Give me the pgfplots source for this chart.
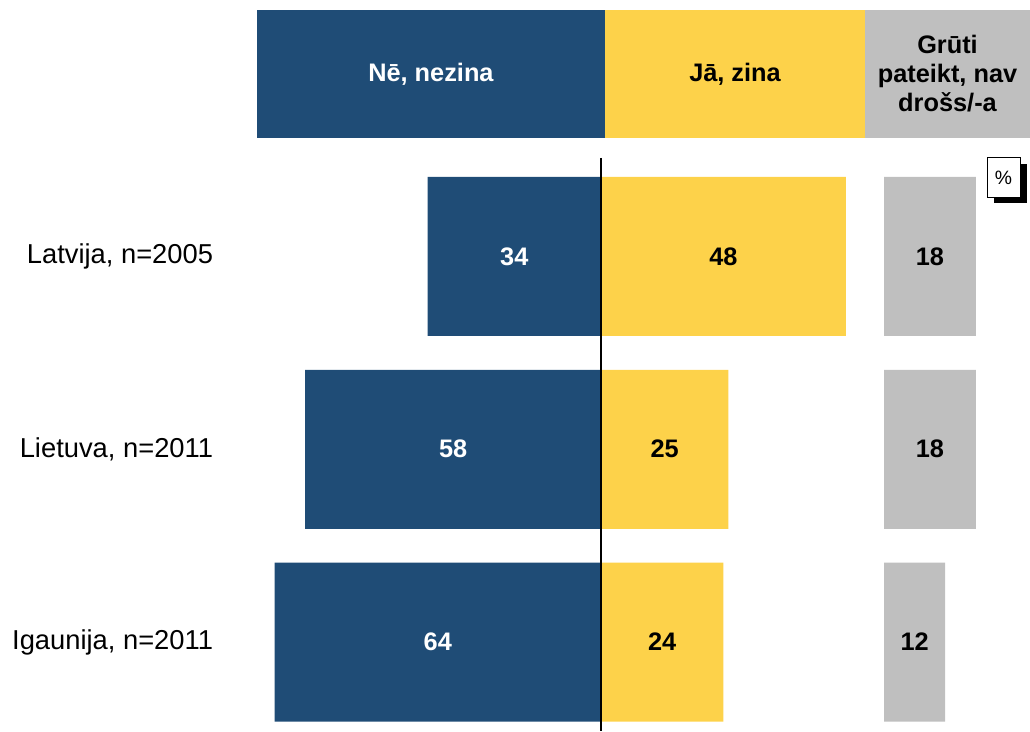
\documentclass[border=0pt]{standalone}
\usepackage{pgfplots}
\pgfplotsset{compat=1.18}
\usepackage{fontspec}
\setmainfont{Liberation Sans}
\definecolor{cblue}{RGB}{31,76,118}
\definecolor{cyellow}{RGB}{253,210,74}
\definecolor{cgray}{RGB}{191,191,191}
\newcommand{\F}{\fontsize{19}{21.75}\selectfont}
\newcommand{\FL}{\fontsize{20.5}{24}\selectfont}
\begin{document}
\begin{tikzpicture}
\pgfplotsset{
  base/.style={
    scale only axis, width=772.5pt, height=548.25pt,
    at={(0,0)}, anchor=south west,
    ymin=-0.4617, ymax=3.3307,
    axis line style={draw=none}, tick style={draw=none},
    xtick=\empty, clip=false,
  },
  barsty/.style={xbar, bar shift=0pt, bar width=119.25pt, draw=none},
  lblsty/.style={draw=none, mark=none, nodes near coords, point meta=explicit symbolic,
    every node near coord/.append style={anchor=center, font=\F\bfseries, text=#1}},
}
\begin{axis}[base, xmin=-117.84, xmax=84.12,
  ytick={0,1,2},
  yticklabels={{Igaunija, n=2011},{Lietuva, n=2011},{Latvija, n=2005}},
  yticklabel style={anchor=east, inner sep=0pt, xshift=160pt, font=\FL}]
% header boxes
\fill[cblue] (axis description cs:0.2495,0.98632) rectangle (axis description cs:0.5874,0.81122);
\fill[cyellow] (axis description cs:0.5874,0.98632) rectangle (axis description cs:0.8398,0.81122);
\fill[cgray] (axis description cs:0.8398,0.98632) rectangle (axis description cs:1,0.81122);
\node[text=white, font=\F\bfseries] at (axis description cs:0.4184,0.8988) {Nē, nezina};
\node[text=black, font=\F\bfseries] at (axis description cs:0.7136,0.8988) {Jā, zina};
\node[text=black, font=\F\bfseries, align=center] at (axis description cs:0.9199,0.8988) {Grūti\\pateikt, nav\\drošs/-a};
% bars
\addplot[barsty, fill=cblue] coordinates {(-64,0) (-58,1) (-34,2)};
\addplot[barsty, fill=cyellow] coordinates {(24,0) (25,1) (48,2)};
\addplot[lblsty=white] coordinates {(-32,0)[64] (-29,1)[58] (-17,2)[34]};
\addplot[lblsty=black] coordinates {(12,0)[24] (12.5,1)[25] (24,2)[48]};
\draw[black, line width=1.1pt] (axis cs:0,2.5110) -- (axis cs:0,-0.4617);
\end{axis}
\begin{axis}[base, xmin=-173.33, xmax=28.63, ytick=\empty]
\addplot[barsty, fill=cgray] coordinates {(12,0) (18,1) (18,2)};
\addplot[lblsty=black] coordinates {(6,0)[12] (9,1)[18] (9,2)[18]};
\fill[black] (axis description cs:0.96505,0.77565) rectangle (axis description cs:0.99709,0.72230);
\filldraw[fill=white, draw=black, line width=0.75pt] (axis description cs:0.9583,0.78386) rectangle (axis description cs:0.9903,0.73050);
\node[font=\fontsize{14.5}{17}\selectfont] at (axis description cs:0.9743,0.7572) {\%};
\end{axis}
\end{tikzpicture}
\end{document}
